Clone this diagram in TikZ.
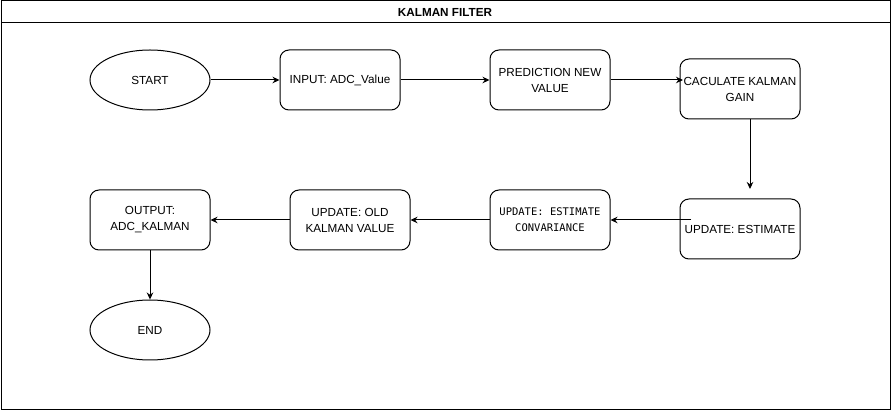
\documentclass[tikz,border=0pt]{standalone}
\usepackage{fontspec}
\setmainfont{Liberation Sans}
\newfontfamily\monofont{DejaVu Sans Mono}
\usetikzlibrary{arrows.meta,shapes.geometric}
\begin{document}
\begin{tikzpicture}[x=1pt,y=-1pt,
  every node/.style={font=\fontsize{11.7}{16}\selectfont, inner sep=0pt, align=center},
  procbox/.style={draw, line width=1pt, rounded corners=9pt, minimum width=120pt, minimum height=60pt},
  termnode/.style={draw, line width=1pt, ellipse, minimum width=120pt, minimum height=60pt},
  flow/.style={draw, line width=1pt, -{Stealth[length=7pt,width=6.5pt]}}
]
\useasboundingbox (0,0) rectangle (892,411);
\draw[line width=1pt] (1,1) rectangle (890,410);
\draw[line width=1pt] (1,23) -- (890,23);
\node[font=\bfseries\fontsize{11.7}{14}\selectfont] (title) at (445,12) {KALMAN FILTER};

\node[termnode] (start) at (150,80) {START};
\node[procbox] (input) at (340,80) {INPUT: ADC\_Value};
\node[procbox] (pred) at (550,80) {PREDICTION NEW\\VALUE};
\node[procbox] (gain) at (740,89) {CACULATE KALMAN\\GAIN};
\node[procbox] (est) at (740,229) {UPDATE: ESTIMATE};
\node[procbox, font=\monofont\fontsize{10.5}{16}\selectfont] (cov) at (550,220) {UPDATE: ESTIMATE\\CONVARIANCE};
\node[procbox] (old) at (350,220) {UPDATE: OLD\\KALMAN VALUE};
\node[procbox] (out) at (150,220) {OUTPUT:\\ADC\_KALMAN};
\node[termnode] (end) at (150,330) {END};

\coordinate (gainout) at (750,119);
\coordinate (estabove) at (750,189);
\coordinate (estin) at (691,220);
\coordinate (gainin) at (683,80);

\draw[flow] (start.east) -- (input.west);
\draw[flow] (input.east) -- (pred.west);
\draw[flow] (pred.east) -- (gainin);
\draw[flow] (gainout) -- (estabove);
\draw[flow] (estin) -- (estin -| cov.east);
\draw[flow] (cov.west) -- (old.east);
\draw[flow] (old.west) -- (out.east);
\draw[flow] (out.south) -- (end.north);
\end{tikzpicture}
\end{document}
